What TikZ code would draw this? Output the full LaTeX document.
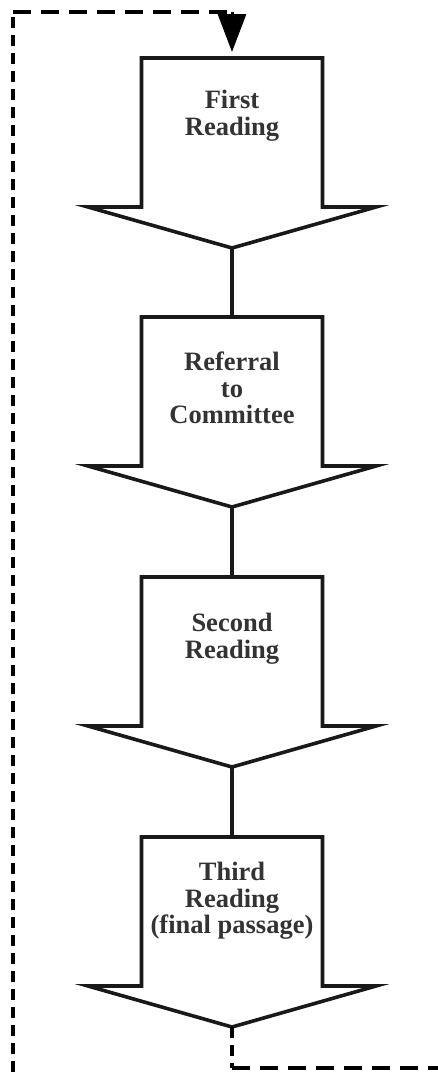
\documentclass[tikz,border=0pt]{standalone}
\usepackage{fontspec}
\setmainfont{Liberation Serif}
\usetikzlibrary{arrows.meta}
\tikzset{
  stage/.style={draw=black!90, line width=3.6pt, fill=white, line join=miter},
  label/.style={anchor=north, align=center, inner sep=0pt, text=black!80,
    font=\fontsize{26.5}{26.5}\selectfont\bfseries},
  link/.style={draw=black!90, line width=3.6pt},
  loopv/.style={draw=black, line width=4.5pt, dash pattern=on 11pt off 7pt},
  looph/.style={draw=black, line width=4.5pt, dash pattern=on 18pt off 10pt},
}
\newcommand{\stagearrow}[2]{%
  \draw[stage] (141.5,#1) -- (141.5,#1+149) -- (88,#1+149) -- (232,#1+190)
    -- (376,#1+149) -- (322.5,#1+149) -- (322.5,#1) -- cycle;
  \coordinate (top#2) at (232,#1);
  \coordinate (tip#2) at (232,#1+190);
}
\begin{document}
\begin{tikzpicture}[x=1pt,y=-1pt]
\useasboundingbox (0,0) rectangle (438,1074);
\fill[white] (0,0) rectangle (438,1074);

\stagearrow{58}{1}
\stagearrow{317}{2}
\stagearrow{577}{3}
\stagearrow{837}{4}

\node[label] (t1) at (232,90) {First\\Reading};
\node[label] (t2) at (232,352) {Referral\\to\\Committee};
\node[label] (t3) at (232,613) {Second\\Reading};
\node[label] (t4) at (232,862) {Third\\Reading\\(final passage)};

\draw[link] (tip1) -- (top2);
\draw[link] (tip2) -- (top3);
\draw[link] (tip3) -- (top4);

\coordinate (cbl) at (13,1090);
\coordinate (ctl) at (13,12);
\coordinate (ctr) at (232,12);
\coordinate (cbr) at (232,1068);
\coordinate (cend) at (450,1068);

\draw[loopv] (cbl) -- (ctl);
\draw[looph] (ctl) -- (ctr);
\draw[draw=black, line width=3pt, -{Triangle[length=38pt,width=28pt]}, shorten >=6pt] (ctr) -- (top1);
\draw[loopv] (tip4) -- (cbr);
\draw[looph] (cbr) -- (cend);
\end{tikzpicture}
\end{document}
